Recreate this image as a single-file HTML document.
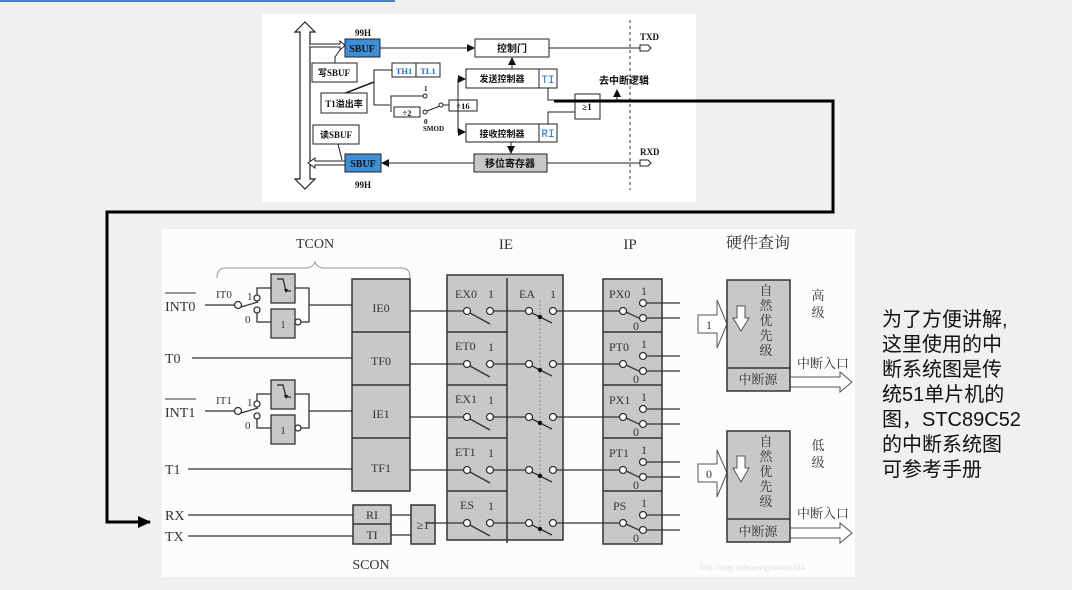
<!DOCTYPE html>
<html><head><meta charset="utf-8"><style>
html,body{margin:0;padding:0;background:#f0f0f0;width:1072px;height:590px;overflow:hidden}
svg{display:block}
.s{font-family:"Liberation Serif","Noto Serif CJK SC",serif;fill:#333}
.b{font-family:"Liberation Serif","Noto Sans CJK SC",serif;font-weight:bold;fill:#111}
</style></head><body>
<svg width="1072" height="590" viewBox="0 0 1072 590" xmlns="http://www.w3.org/2000/svg">
<defs>
<marker id="ar" markerWidth="8" markerHeight="8" refX="7" refY="4" orient="auto" markerUnits="userSpaceOnUse"><path d="M0,0 L8,4 L0,8z" fill="#111"/></marker>
<marker id="ab" markerWidth="14" markerHeight="14" refX="12" refY="7" orient="auto" markerUnits="userSpaceOnUse"><path d="M0,1 L13,7 L0,13z" fill="#000"/></marker>
<g id="sw"><line x1="-40" y1="0" x2="-4" y2="0" stroke="#333" stroke-width="1.3"/><circle cx="0" cy="0" r="3.5" fill="#fff" stroke="#333" stroke-width="1.3"/><line x1="3" y1="2" x2="23" y2="13" stroke="#333" stroke-width="1.3"/><circle cx="23" cy="0" r="3.5" fill="#fff" stroke="#333" stroke-width="1.3"/><line x1="26.5" y1="0" x2="59" y2="0" stroke="#333" stroke-width="1.3"/><circle cx="62" cy="0" r="3.5" fill="#fff" stroke="#333" stroke-width="1.3"/><line x1="65" y1="2" x2="85" y2="12" stroke="#333" stroke-width="1.3"/><circle cx="73" cy="6" r="2.2" fill="#111"/><circle cx="86" cy="0" r="3.5" fill="#fff" stroke="#333" stroke-width="1.3"/><line x1="89.5" y1="0" x2="152" y2="0" stroke="#333" stroke-width="1.3"/><circle cx="156" cy="0" r="3.5" fill="#fff" stroke="#333" stroke-width="1.3"/><line x1="159" y1="1" x2="174" y2="8" stroke="#333" stroke-width="1.3"/><circle cx="176" cy="-8" r="3.5" fill="#fff" stroke="#333" stroke-width="1.3"/><circle cx="176" cy="7" r="3.5" fill="#fff" stroke="#333" stroke-width="1.3"/><line x1="179.5" y1="-8" x2="213" y2="-8" stroke="#333" stroke-width="1.3"/><line x1="179.5" y1="7" x2="213" y2="7" stroke="#333" stroke-width="1.3"/></g>
<g id="ext"><line x1="205" y1="0" x2="234" y2="0" stroke="#333" stroke-width="1.3"/><circle cx="238" cy="0" r="3.5" fill="#fff" stroke="#333" stroke-width="1.3"/><line x1="241" y1="2" x2="258" y2="-3" stroke="#333" stroke-width="1.3"/><circle cx="257" cy="-7" r="3" fill="#fff" stroke="#333" stroke-width="1.3"/><circle cx="257" cy="5" r="3" fill="#fff" stroke="#333" stroke-width="1.3"/><polyline points="257,-10 257,-17 271,-17" fill="none" stroke="#333" stroke-width="1.3"/><polyline points="257,8 257,17 271,17" fill="none" stroke="#333" stroke-width="1.3"/><rect x="271" y="-31" width="24" height="29" fill="#c8c8c8" stroke="#333" stroke-width="1.3"/><polyline points="277,-26 283,-26 286,-14 291,-14" fill="none" stroke="#222" stroke-width="1.2"/><path d="M284,-16 l4,0 l-2,4z" fill="#111"/><rect x="271" y="4" width="24" height="29" fill="#c8c8c8" stroke="#333" stroke-width="1.3"/><circle cx="298" cy="17" r="3" fill="#fff" stroke="#333" stroke-width="1.3"/><polyline points="295,-17 309,-17 309,17 301,17" fill="none" stroke="#333" stroke-width="1.3"/><line x1="309" y1="0" x2="352" y2="0" stroke="#333" stroke-width="1.3"/></g>
</defs>
<rect x="0" y="0" width="395" height="2" fill="#4a7fc0"/>
<!-- top diagram -->
<rect x="262" y="14" width="434" height="188" fill="#fff"/>
<path d="M305,22 L295,32 L300,32 L300,179 L295,179 L305,189 L315,179 L310,179 L310,32 L315,32z" fill="#fff" stroke="#222" stroke-width="1.2"/>
<path d="M310,44 L340,44 L340,41 L345,45.5 L340,50 L340,47 L310,47" fill="#fff" stroke="#222"/>
<rect x="345" y="39" width="35" height="18" fill="#3d8fd8" stroke="#222"/>
<text x="362" y="52" class="b" font-size="10" text-anchor="middle">SBUF</text>
<text x="355" y="36" class="b" font-size="9">99H</text>
<rect x="312" y="63" width="45" height="19" fill="#fff" stroke="#222"/>
<text x="334" y="76" class="b" font-size="9" text-anchor="middle">写SBUF</text>
<polyline points="335,63 335,57 340,50" fill="none" stroke="#222"/>
<line x1="380" y1="48" x2="474" y2="48" stroke="#222" marker-end="url(#ar)"/>
<rect x="475" y="39" width="74" height="18" fill="#fff" stroke="#222"/>
<text x="512" y="52" class="b" font-size="10" text-anchor="middle">控制门</text>
<line x1="549" y1="48" x2="640" y2="48" stroke="#222"/>
<path d="M640,45 L648,45 L651,48 L648,51 L640,51z" fill="#fff" stroke="#222"/>
<text x="640" y="40" class="b" font-size="9">TXD</text>
<line x1="630" y1="20" x2="630" y2="190" stroke="#333" stroke-dasharray="3,3"/>
<rect x="392" y="63" width="48" height="14" fill="#fff" stroke="#222"/><line x1="416" y1="63" x2="416" y2="77" stroke="#222"/>
<text x="404" y="74" class="b" font-size="8.5" style="fill:#1a6fd0" text-anchor="middle">TH1</text>
<text x="428" y="74" class="b" font-size="8.5" style="fill:#1a6fd0" text-anchor="middle">TL1</text>
<polyline points="392,70 374,70 374,105 390,105" fill="none" stroke="#222"/>
<line x1="374" y1="82" x2="343" y2="94" stroke="#222" stroke-width="1.5"/>
<rect x="321" y="93" width="46" height="20" fill="#fff" stroke="#222"/>
<text x="344" y="107" class="b" font-size="9" text-anchor="middle">T1溢出率</text>
<polyline points="391,112 391,96 423,96" fill="none" stroke="#222"/>
<circle cx="425" cy="96" r="2" fill="#fff" stroke="#222"/>
<text x="424" y="91" class="b" font-size="7">1</text>
<rect x="394" y="107" width="26" height="10" fill="#fff" stroke="#222"/>
<text x="407" y="116" class="b" font-size="8.5" text-anchor="middle">÷2</text>
<circle cx="425" cy="112" r="2" fill="#fff" stroke="#222"/>
<line x1="427" y1="111" x2="440" y2="106" stroke="#222"/>
<circle cx="441" cy="105" r="2" fill="#fff" stroke="#222"/>
<line x1="443" y1="105" x2="449" y2="105" stroke="#222"/>
<text x="424" y="124" class="b" font-size="7">0</text>
<text x="423" y="131" class="b" font-size="7">SMOD</text>
<rect x="449" y="100" width="28" height="11" fill="#fff" stroke="#222"/>
<text x="463" y="109" class="b" font-size="8.5" text-anchor="middle">÷16</text>
<polyline points="466,79 458,79 458,132 465,132" fill="none" stroke="#222"/>
<line x1="458" y1="79" x2="465" y2="79" stroke="#222" marker-end="url(#ar)"/>
<line x1="458" y1="132" x2="465" y2="132" stroke="#222" marker-end="url(#ar)"/>
<rect x="466" y="69" width="91" height="19" fill="#fff" stroke="#222"/><line x1="539" y1="69" x2="539" y2="88" stroke="#222"/>
<text x="502" y="82" class="b" font-size="9" text-anchor="middle">发送控制器</text>
<text x="548" y="83" font-family="Liberation Mono,monospace" font-size="11" fill="#1a6fd0" text-anchor="middle">TI</text>
<line x1="512" y1="69" x2="512" y2="58" stroke="#222" marker-end="url(#ar)"/>
<rect x="466" y="124" width="91" height="18" fill="#fff" stroke="#222"/><line x1="539" y1="124" x2="539" y2="142" stroke="#222"/>
<text x="502" y="137" class="b" font-size="9" text-anchor="middle">接收控制器</text>
<text x="548" y="137" font-family="Liberation Mono,monospace" font-size="11" fill="#1a6fd0" text-anchor="middle">RI</text>
<line x1="511" y1="142" x2="511" y2="153" stroke="#222" marker-end="url(#ar)"/>
<polyline points="548,88 548,100 575,100" fill="none" stroke="#222"/>
<polyline points="548,124 548,112 575,112" fill="none" stroke="#222"/>
<rect x="575" y="94" width="25" height="25" fill="#fff" stroke="#222"/>
<text x="587" y="110" class="b" font-size="9" text-anchor="middle">≥1</text>
<polyline points="600,100 617,100 617,90" fill="none" stroke="#222" marker-end="url(#ar)"/>
<text x="599" y="84" class="b" font-size="10">去中断逻辑</text>
<rect x="313" y="125" width="46" height="19" fill="#fff" stroke="#222"/>
<text x="336" y="138" class="b" font-size="9" text-anchor="middle">读SBUF</text>
<line x1="338" y1="144" x2="342" y2="160" stroke="#222"/>
<path d="M345,161 L315,161 L315,158 L308,163 L315,168 L315,165 L345,165" fill="#fff" stroke="#222"/>
<rect x="345" y="154" width="36" height="18" fill="#3d8fd8" stroke="#222"/>
<text x="363" y="167" class="b" font-size="10" text-anchor="middle">SBUF</text>
<text x="355" y="188" class="b" font-size="9">99H</text>
<line x1="474" y1="163" x2="382" y2="163" stroke="#222" marker-end="url(#ar)"/>
<rect x="474" y="154" width="73" height="18" fill="#c8c8c8" stroke="#222"/>
<text x="510" y="167" class="b" font-size="10" text-anchor="middle">移位寄存器</text>
<line x1="640" y1="163" x2="547" y2="163" stroke="#222"/>
<path d="M640,160 L648,160 L651,163 L648,166 L640,166z" fill="#fff" stroke="#222"/>
<text x="640" y="155" class="b" font-size="9">RXD</text>
<!-- thick connector -->
<polyline points="554,101 833,101 833,212 107,212 107,522 150,522" fill="none" stroke="#000" stroke-width="3" marker-end="url(#ab)"/>
<!-- bottom diagram -->
<rect x="162" y="229" width="693" height="348" fill="#fcfcfc"/>
<text x="315" y="248" class="s" font-size="14" text-anchor="middle">TCON</text>
<path d="M217,278 q0,-10 8,-10 L305,268 q8,0 10,-6 q2,6 10,6 L402,268 q8,0 8,10" fill="none" stroke="#999"/>
<text x="165" y="311" class="s" font-size="14">INT0</text><line x1="165" y1="293" x2="196" y2="293" stroke="#333"/>
<text x="216" y="298" class="s" font-size="11">IT0</text><text x="247" y="300" class="s" font-size="11">1</text><text x="245" y="323" class="s" font-size="11">0</text>
<use href="#ext" y="305"/>
<text x="283" y="328" class="s" font-size="11" text-anchor="middle">1</text>
<text x="165" y="363" class="s" font-size="14">T0</text><line x1="192" y1="358" x2="352" y2="358" stroke="#333" stroke-width="1.3"/>
<text x="165" y="417" class="s" font-size="14">INT1</text><line x1="165" y1="399" x2="196" y2="399" stroke="#333"/>
<text x="216" y="404" class="s" font-size="11">IT1</text><text x="247" y="406" class="s" font-size="11">1</text><text x="245" y="429" class="s" font-size="11">0</text>
<use href="#ext" y="411"/>
<text x="283" y="434" class="s" font-size="11" text-anchor="middle">1</text>
<text x="165" y="474" class="s" font-size="14">T1</text><line x1="188" y1="469" x2="352" y2="469" stroke="#333" stroke-width="1.3"/>
<text x="165" y="520" class="s" font-size="14">RX</text><line x1="188" y1="515" x2="353" y2="515" stroke="#333" stroke-width="1.3"/>
<text x="165" y="541" class="s" font-size="14">TX</text><line x1="188" y1="536" x2="353" y2="536" stroke="#333" stroke-width="1.3"/>
<rect x="352" y="279" width="58" height="212" fill="#c8c8c8" stroke="#333" stroke-width="1.5"/>
<line x1="352" y1="332" x2="410" y2="332" stroke="#333" stroke-width="1.5"/><line x1="352" y1="385" x2="410" y2="385" stroke="#333" stroke-width="1.5"/><line x1="352" y1="438" x2="410" y2="438" stroke="#333" stroke-width="1.5"/>
<text x="381" y="312" class="s" font-size="12" text-anchor="middle">IE0</text>
<text x="381" y="365" class="s" font-size="12" text-anchor="middle">TF0</text>
<text x="381" y="418" class="s" font-size="12" text-anchor="middle">IE1</text>
<text x="381" y="472" class="s" font-size="12" text-anchor="middle">TF1</text>
<rect x="353" y="505" width="38" height="39" fill="#c8c8c8" stroke="#333" stroke-width="1.5"/><line x1="353" y1="524" x2="391" y2="524" stroke="#333" stroke-width="1.5"/>
<text x="372" y="519" class="s" font-size="12" text-anchor="middle">RI</text><text x="372" y="539" class="s" font-size="12" text-anchor="middle">TI</text>
<line x1="391" y1="515" x2="411" y2="515" stroke="#333" stroke-width="1.3"/><line x1="391" y1="535" x2="411" y2="535" stroke="#333" stroke-width="1.3"/>
<rect x="411" y="505" width="24" height="39" fill="#c8c8c8" stroke="#333" stroke-width="1.5"/>
<text x="423" y="529" class="s" font-size="12" text-anchor="middle">≥1</text>
<text x="371" y="569" class="s" font-size="14" text-anchor="middle">SCON</text>
<text x="506" y="249" class="s" font-size="15" text-anchor="middle">IE</text>
<text x="630" y="249" class="s" font-size="15" text-anchor="middle">IP</text>
<text x="758" y="248" class="s" font-size="16" text-anchor="middle">硬件查询</text>
<rect x="447" y="275" width="116" height="265" fill="#c8c8c8" stroke="#333" stroke-width="1.5"/>
<line x1="507" y1="278" x2="507" y2="543" stroke="#333" stroke-width="1.5"/>
<line x1="447" y1="332" x2="507" y2="332" stroke="#333" stroke-width="1.5"/><line x1="447" y1="385" x2="507" y2="385" stroke="#333" stroke-width="1.5"/><line x1="447" y1="438" x2="507" y2="438" stroke="#333" stroke-width="1.5"/><line x1="447" y1="491" x2="507" y2="491" stroke="#333" stroke-width="1.5"/>
<line x1="540" y1="300" x2="540" y2="535" stroke="#888" stroke-dasharray="2,2"/>
<rect x="603" y="279" width="59" height="265" fill="#c8c8c8" stroke="#333" stroke-width="1.5"/>
<line x1="603" y1="332" x2="662" y2="332" stroke="#333" stroke-width="1.5"/><line x1="603" y1="385" x2="662" y2="385" stroke="#333" stroke-width="1.5"/><line x1="603" y1="438" x2="662" y2="438" stroke="#333" stroke-width="1.5"/><line x1="603" y1="491" x2="662" y2="491" stroke="#333" stroke-width="1.5"/>
<line x1="410" y1="311" x2="427" y2="311" stroke="#333" stroke-width="1.3"/><line x1="410" y1="364" x2="427" y2="364" stroke="#333" stroke-width="1.3"/><line x1="410" y1="417" x2="427" y2="417" stroke="#333" stroke-width="1.3"/><line x1="410" y1="470" x2="427" y2="470" stroke="#333" stroke-width="1.3"/><line x1="435" y1="523" x2="427" y2="523" stroke="#333" stroke-width="1.3"/>
<use href="#sw" x="467" y="311"/><use href="#sw" x="467" y="364"/><use href="#sw" x="467" y="417"/><use href="#sw" x="467" y="470"/><use href="#sw" x="467" y="523"/>
<g class="s" font-size="12">
<text x="455" y="298">EX0</text><text x="488" y="298">1</text><text x="519" y="298">EA</text><text x="550" y="298">1</text>
<text x="455" y="350">ET0</text><text x="488" y="351">1</text>
<text x="455" y="403">EX1</text><text x="488" y="404">1</text>
<text x="455" y="456">ET1</text><text x="488" y="457">1</text>
<text x="460" y="509">ES</text><text x="488" y="510">1</text>
<text x="609" y="298">PX0</text><text x="641" y="295">1</text><text x="633" y="330">0</text>
<text x="609" y="351">PT0</text><text x="641" y="348">1</text><text x="633" y="383">0</text>
<text x="609" y="404">PX1</text><text x="641" y="401">1</text><text x="633" y="436">0</text>
<text x="609" y="457">PT1</text><text x="641" y="454">1</text><text x="633" y="489">0</text>
<text x="613" y="510">PS</text><text x="641" y="507">1</text><text x="633" y="542">0</text>
</g>
<g fill="#fff" stroke="#555">
<path d="M698,315 L717,315 L717,300 L727,324 L717,348 L717,333 L698,333z"/>
<path d="M698,464 L717,464 L717,450 L727,473 L717,497 L717,482 L698,482z"/>
<path d="M790,377 L840,377 L840,372 L852,382 L840,392 L840,387 L790,387z"/>
<path d="M790,528 L840,528 L840,523 L852,533 L840,543 L840,538 L790,538z"/>
</g>
<text x="709" y="329" class="s" font-size="12" text-anchor="middle">1</text>
<text x="709" y="478" class="s" font-size="12" text-anchor="middle">0</text>
<rect x="727" y="280" width="63" height="111" fill="#c8c8c8" stroke="#333" stroke-width="1.5"/><line x1="727" y1="368" x2="790" y2="368" stroke="#333" stroke-width="1.5"/>
<rect x="727" y="431" width="63" height="111" fill="#c8c8c8" stroke="#333" stroke-width="1.5"/><line x1="727" y1="519" x2="790" y2="519" stroke="#333" stroke-width="1.5"/>
<path d="M737,306 L745,306 L745,318 L749,318 L741,331 L733,318 L737,318z" fill="#fff" stroke="#555"/>
<path d="M737,456 L745,456 L745,468 L749,468 L741,482 L733,468 L737,468z" fill="#fff" stroke="#555"/>
<g class="s" font-size="13" text-anchor="middle">
<text x="766" y="295">自</text><text x="766" y="310">然</text><text x="766" y="325">优</text><text x="766" y="340">先</text><text x="766" y="355">级</text>
<text x="766" y="446">自</text><text x="766" y="461">然</text><text x="766" y="476">优</text><text x="766" y="491">先</text><text x="766" y="506">级</text>
<text x="758" y="384">中断源</text><text x="758" y="536">中断源</text>
<text x="818" y="300">高</text><text x="818" y="317">级</text>
<text x="818" y="450">低</text><text x="818" y="467">级</text>
<text x="823" y="368">中断入口</text><text x="823" y="518">中断入口</text>
</g>
<text x="700" y="570" font-family="Liberation Serif,serif" font-size="8" fill="#ddd">http://blog.csdn.net/gjmmm1314</text>
<g font-family="Liberation Sans,'Noto Sans CJK SC',sans-serif" font-size="20" fill="#111">
<text x="882" y="326">为了方便讲解,</text>
<text x="882" y="351">这里使用的中</text>
<text x="882" y="376">断系统图是传</text>
<text x="882" y="401">统51单片机的</text>
<text x="882" y="426">图，STC89C52</text>
<text x="882" y="451">的中断系统图</text>
<text x="882" y="476">可参考手册</text>
</g>
</svg>
</body></html>
